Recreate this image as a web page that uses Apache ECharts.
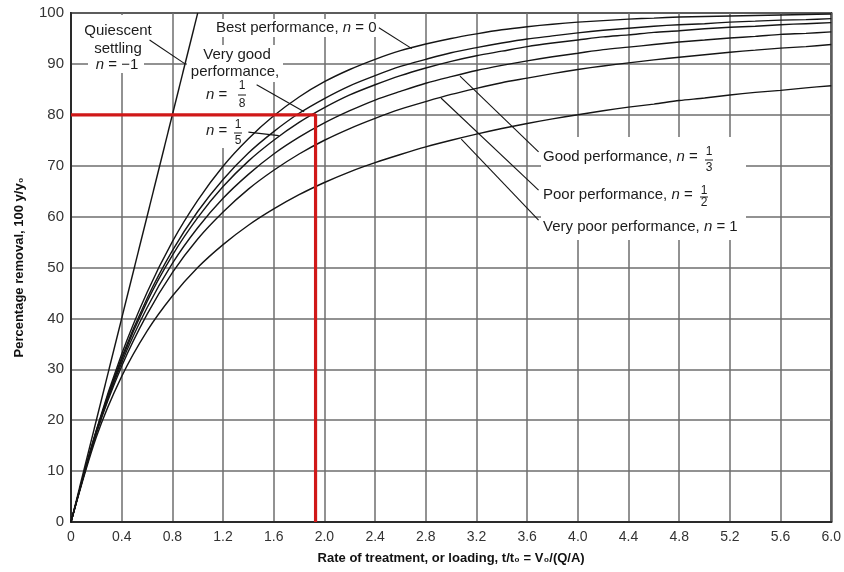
<!DOCTYPE html>
<html><head><meta charset="utf-8">
<script src="https://cdn.jsdelivr.net/npm/echarts@6/dist/echarts.min.js"></script>
<style>html,body{margin:0;padding:0;background:#fff}#c{width:844px;height:572px}</style>
</head><body><div id="c"></div>
<script>
// ---- data ----
const xVals = [0,0.2,0.4,0.6,0.8,1.0,1.2,1.4,1.6,1.8,2.0,2.2,2.4,2.6,2.8,3.0,3.2,3.4,3.6,3.8,4.0,4.2,4.4,4.6,4.8,5.0,5.2,5.4,5.6,5.8,6.0];
const best_n0      = [0,18.1,33.0,45.1,55.1,63.2,69.9,75.3,79.8,83.5,86.5,88.9,90.9,92.6,93.9,95.0,95.9,96.7,97.3,97.8,98.2,98.5,98.8,99.0,99.2,99.3,99.4,99.5,99.6,99.7,99.8];
const veryGood_n18 = [0,17.9,32.3,43.9,53.3,61.0,67.3,72.5,76.7,80.3,83.2,85.7,87.7,89.5,90.9,92.2,93.2,94.1,94.9,95.5,96.1,96.6,97.0,97.4,97.7,97.9,98.2,98.4,98.6,98.7,98.9];
const n15          = [0,17.8,31.9,43.3,52.4,59.8,65.9,70.9,75.0,78.5,81.4,83.9,85.9,87.7,89.2,90.5,91.6,92.5,93.4,94.1,94.7,95.3,95.7,96.2,96.5,96.9,97.2,97.4,97.7,97.9,98.1];
const good_n13     = [0,17.6,31.3,42.1,50.8,57.8,63.6,68.3,72.3,75.6,78.4,80.8,82.9,84.6,86.2,87.5,88.7,89.7,90.6,91.4,92.1,92.8,93.3,93.8,94.3,94.7,95.1,95.4,95.8,96.0,96.3];
const poor_n12     = [0,17.4,30.6,40.8,49.0,55.6,60.9,65.4,69.1,72.3,75.0,77.3,79.3,81.1,82.6,84.0,85.2,86.3,87.2,88.1,88.9,89.6,90.2,90.8,91.3,91.8,92.3,92.7,93.1,93.4,93.8];
const veryPoor_n1  = [0,16.7,28.6,37.5,44.4,50.0,54.5,58.3,61.5,64.3,66.7,68.8,70.6,72.2,73.7,75.0,76.2,77.3,78.3,79.2,80.0,80.8,81.5,82.1,82.8,83.3,83.9,84.4,84.8,85.3,85.7];
const quiescentX = [0, 1.0];
const quiescentY = [0, 100];
const designX = [0, 1.93, 1.93];
const designY = [80, 80, 0];
const yTicks = [0,10,20,30,40,50,60,70,80,90,100];
const xTicks = ['0','0.4','0.8','1.2','1.6','2.0','2.4','2.8','3.2','3.6','4.0','4.4','4.8','5.2','5.6','6.0'];
// leader lines (data coords): [x1,y1,x2,y2]
const leaders = [
  [0.62,94.7, 0.90,90.0],
  [2.43,97.1, 2.69,93.0],
  [1.465,85.9, 1.84,80.6],
  [1.40,76.6, 1.64,75.9],
  [3.69,72.7, 3.07,87.6],
  [3.69,65.2, 2.92,83.3],
  [3.69,59.3, 3.08,75.2]
];

const FONT = '"Liberation Sans", Arial, sans-serif';
const chart = echarts.init(document.getElementById('c'));
const pairs = (xs, ys) => xs.map((x, i) => [x, ys[i]]);
const curves = [best_n0, veryGood_n18, n15, good_n13, poor_n12, veryPoor_n1];

const series = curves.map(v => ({
  type: 'line', data: pairs(xVals, v), smooth: 0.3,
  symbol: 'none', lineStyle: { color: '#151515', width: 1.4 }, z: 4, silent: true
}));
series.push({ type: 'line', data: pairs(quiescentX, quiescentY), symbol: 'none',
  lineStyle: { color: '#151515', width: 1.4 }, z: 4, silent: true });
series.push({ type: 'line', data: pairs(designX, designY), symbol: 'none',
  lineStyle: { color: '#d01818', width: 3.2 }, z: 5, silent: true });
series.push({ type: 'lines', coordinateSystem: 'cartesian2d', silent: true, z: 4,
  lineStyle: { color: '#151515', width: 1.1, opacity: 1 },
  data: leaders.map(l => ({ coords: [[l[0], l[1]], [l[2], l[3]]] })) });

const FS = 15;
const rich = { i: { fontStyle: 'italic', fontFamily: FONT, fontSize: FS, fill: '#1c1c1c' } };
function T(text, x, y, align) {
  return { type: 'text', z: 3, style: { text, x, y, align: align || 'left', verticalAlign: 'middle',
    fontFamily: FONT, fontSize: FS, fill: '#1c1c1c', rich } };
}
function frac(x, y, num, den, gap) {
  gap = gap || 8;
  return [
    { type: 'text', z: 3, style: { text: num, x, y: y - gap, align: 'center', verticalAlign: 'middle', fontFamily: FONT, fontSize: 12, fill: '#1c1c1c' } },
    { type: 'line', z: 3, shape: { x1: x - 4, y1: y, x2: x + 4, y2: y }, style: { stroke: '#1c1c1c', lineWidth: 1 } },
    { type: 'text', z: 3, style: { text: den, x, y: y + gap, align: 'center', verticalAlign: 'middle', fontFamily: FONT, fontSize: 12, fill: '#1c1c1c' } }
  ];
}
const W = (x, y, w, h) => ({ type: 'rect', z: 2, shape: { x, y, width: w, height: h }, style: { fill: '#fff' } });

const graphic = [
  W(82, 15, 74, 44), W(88, 57, 56, 16),
  W(212, 19, 170, 18),
  W(187, 45, 96, 37), W(203, 80, 47, 68),
  W(541, 137, 205, 103),
  T('Quiescent', 118, 31, 'center'),
  T('settling', 118, 49, 'center'),
  T('{i|n} = −1', 117, 65, 'center'),
  T('Best performance, {i|n} = 0', 216, 28),
  T('Very good', 237, 55, 'center'),
  T('performance,', 235, 72, 'center'),
  T('{i|n} =', 206, 95),
  ...frac(242, 95, '1', '8', 9),
  T('{i|n} =', 206, 131),
  ...frac(238, 133, '1', '5', 8),
  T('Good performance, {i|n} =', 543, 157),
  ...frac(709, 160, '1', '3', 8),
  T('Poor performance, {i|n} =', 543, 195),
  ...frac(704, 197, '1', '2', 6),
  T('Very poor performance, {i|n} = 1', 543, 227)
];

chart.setOption({
  animation: false,
  backgroundColor: '#fff',
  grid: { left: 71, right: 11, top: 13, bottom: 50, show: true, borderColor: '#2a2a2a', borderWidth: 2 },
  xAxis: {
    type: 'value', min: 0, max: 6, interval: 0.4,
    name: 'Rate of treatment, or loading, t/t₀ = V₀/(Q/A)', nameLocation: 'middle', nameGap: 30,
    nameTextStyle: { fontFamily: FONT, fontWeight: 'bold', fontSize: 13, color: '#111' },
    axisLine: { lineStyle: { color: '#2a2a2a', width: 2 } },
    axisTick: { show: false },
    axisLabel: { fontFamily: FONT, fontSize: 14, color: '#333', margin: 8,
      formatter: v => xTicks[Math.round(v / 0.4)] },
    splitLine: { show: true, lineStyle: { color: '#6e6e6e', width: 1.5 } }
  },
  yAxis: {
    type: 'value', min: 0, max: 100, interval: 10,
    name: 'Percentage removal, 100 y/y₀', nameLocation: 'middle', nameGap: 45,
    nameTextStyle: { fontFamily: FONT, fontWeight: 'bold', fontSize: 13, color: '#111' },
    axisLine: { show: true, lineStyle: { color: '#2a2a2a', width: 2 } },
    axisTick: { show: false },
    axisLabel: { fontFamily: FONT, fontSize: 15, color: '#333', margin: 7,
      formatter: v => String(yTicks[Math.round(v / 10)]) },
    splitLine: { show: true, lineStyle: { color: '#6e6e6e', width: 1.5 } }
  },
  series,
  graphic
});
</script></body></html>
